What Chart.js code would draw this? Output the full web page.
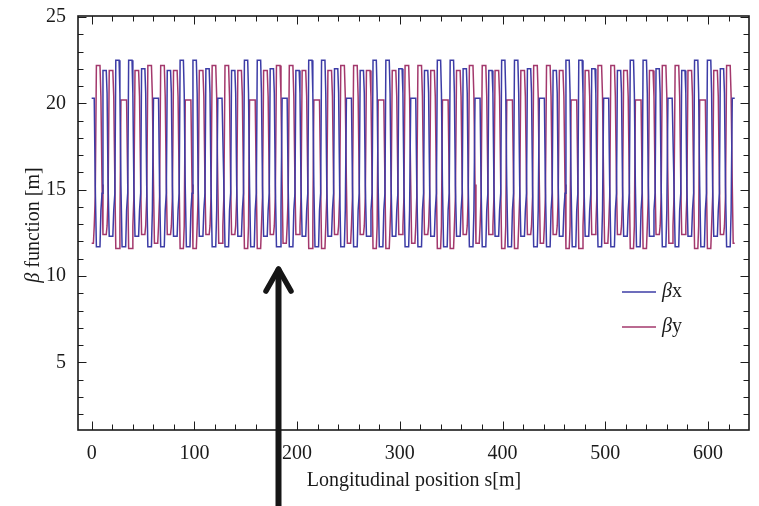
<!DOCTYPE html>
<html>
<head>
<meta charset="utf-8">
<script src="https://cdn.jsdelivr.net/npm/chart.js@4.4.1/dist/chart.umd.min.js"></script>
<style>
  html, body { margin: 0; padding: 0; background: #fff; }
</style>
</head>
<body>
<canvas id="beta" width="759" height="506"></canvas>
<script>
// Longitudinal position s [m] of each sample
const sPos = [
  0,1.7,2.5,3.5,4.6,8.1,9,10.1,11, 12.5,14.2,15,16,17.1,20.6,21.5,22.6,23.5, 25,26.7,27.5,28.5,29.6,33.1,34,35.1,36, 37.6,39.3,40.1,41.1,42.2,45.7,46.6,47.7,48.6, 50.1,51.8,52.6,53.6,54.7,58.2,59.1,60.2,61.1,
  62.6,64.3,65.1,66.1,67.2,70.7,71.6,72.7,73.6, 75.1,76.8,77.6,78.6,79.7,83.2,84.1,85.2,86.1, 87.6,89.3,90.1,91.1,92.2,95.7,96.6,97.7,98.6, 100.2,101.9,102.7,103.7,104.8,108.3,109.2,110.3,111.2, 112.7,114.4,115.2,116.2,117.3,120.8,121.7,122.8,123.7,
  125.2,126.9,127.7,128.7,129.8,133.3,134.2,135.3,136.2, 137.7,139.4,140.2,141.2,142.3,145.8,146.7,147.8,148.7, 150.2,151.9,152.7,153.7,154.8,158.3,159.2,160.3,161.2, 162.8,164.5,165.3,166.3,167.4,170.9,171.8,172.9,173.8, 175.3,177,177.8,178.8,179.9,183.4,184.3,185.4,186.3,
  187.8,189.5,190.3,191.3,192.4,195.9,196.8,197.9,198.8, 200.3,202,202.8,203.8,204.9,208.4,209.3,210.4,211.3, 212.8,214.5,215.3,216.3,217.4,220.9,221.8,222.9,223.8, 225.4,227.1,227.9,228.9,230,233.5,234.4,235.5,236.4, 237.9,239.6,240.4,241.4,242.5,246,246.9,248,248.9,
  250.4,252.1,252.9,253.9,255,258.5,259.4,260.5,261.4, 262.9,264.6,265.4,266.4,267.5,271,271.9,273,273.9, 275.4,277.1,277.9,278.9,280,283.5,284.4,285.5,286.4, 288,289.7,290.5,291.5,292.6,296.1,297,298.1,299, 300.5,302.2,303,304,305.1,308.6,309.5,310.6,311.5,
  313,314.7,315.5,316.5,317.6,321.1,322,323.1,324, 325.5,327.2,328,329,330.1,333.6,334.5,335.6,336.5, 338,339.7,340.5,341.5,342.6,346.1,347,348.1,349, 350.6,352.3,353.1,354.1,355.2,358.7,359.6,360.7,361.6, 363.1,364.8,365.6,366.6,367.7,371.2,372.1,373.2,374.1,
  375.6,377.3,378.1,379.1,380.2,383.7,384.6,385.7,386.6, 388.1,389.8,390.6,391.6,392.7,396.2,397.1,398.2,399.1, 400.6,402.3,403.1,404.1,405.2,408.7,409.6,410.7,411.6, 413.2,414.9,415.7,416.7,417.8,421.3,422.2,423.3,424.2, 425.7,427.4,428.2,429.2,430.3,433.8,434.7,435.8,436.7,
  438.2,439.9,440.7,441.7,442.8,446.3,447.2,448.3,449.2, 450.7,452.4,453.2,454.2,455.3,458.8,459.7,460.8,461.7, 463.2,464.9,465.7,466.7,467.8,471.3,472.2,473.3,474.2, 475.8,477.5,478.3,479.3,480.4,483.9,484.8,485.9,486.8, 488.3,490,490.8,491.8,492.9,496.4,497.3,498.4,499.3,
  500.8,502.5,503.3,504.3,505.4,508.9,509.8,510.9,511.8, 513.3,515,515.8,516.8,517.9,521.4,522.3,523.4,524.3, 525.8,527.5,528.3,529.3,530.4,533.9,534.8,535.9,536.8, 538.4,540.1,540.9,541.9,543,546.5,547.4,548.5,549.4, 550.9,552.6,553.4,554.4,555.5,559,559.9,561,561.9,
  563.4,565.1,565.9,566.9,568,571.5,572.4,573.5,574.4, 575.9,577.6,578.4,579.4,580.5,584,584.9,586,586.9, 588.4,590.1,590.9,591.9,593,596.5,597.4,598.5,599.4, 601,602.7,603.5,604.5,605.6,609.1,610,611.1,612, 613.5,615.2,616,617,618.1,621.6,622.5,623.6,624.5,
  626
];

// beta_x [m] at each sample
const betaX = [
  20.3,20.3,20.3,15.2,11.7,11.7,13.8,14.8,21.9, 21.9,21.9,20.6,15.2,12.3,12.3,13.8,14.8,22.5, 22.5,22.5,20.6,15.2,11.7,11.7,13.8,14.8,22.5, 22.5,22.5,20.6,15.2,12.3,12.3,13.8,14.8,22.0, 22.0,22.0,20.6,15.2,11.7,11.7,13.8,20.3,20.3,
  20.3,20.3,20.3,15.2,11.7,11.7,13.8,14.8,21.9, 21.9,21.9,20.6,15.2,12.3,12.3,13.8,14.8,22.5, 22.5,22.5,20.6,15.2,11.7,11.7,13.8,14.8,22.5, 22.5,22.5,20.6,15.2,12.3,12.3,13.8,14.8,22.0, 22.0,22.0,20.6,15.2,11.7,11.7,13.8,20.3,20.3,
  20.3,20.3,20.3,15.2,11.7,11.7,13.8,14.8,21.9, 21.9,21.9,20.6,15.2,12.3,12.3,13.8,14.8,22.5, 22.5,22.5,20.6,15.2,11.7,11.7,13.8,14.8,22.5, 22.5,22.5,20.6,15.2,12.3,12.3,13.8,14.8,22.0, 22.0,22.0,20.6,15.2,11.7,11.7,13.8,20.3,20.3,
  20.3,20.3,20.3,15.2,11.7,11.7,13.8,14.8,21.9, 21.9,21.9,20.6,15.2,12.3,12.3,13.8,14.8,22.5, 22.5,22.5,20.6,15.2,11.7,11.7,13.8,14.8,22.5, 22.5,22.5,20.6,15.2,12.3,12.3,13.8,14.8,22.0, 22.0,22.0,20.6,15.2,11.7,11.7,13.8,20.3,20.3,
  20.3,20.3,20.3,15.2,11.7,11.7,13.8,14.8,21.9, 21.9,21.9,20.6,15.2,12.3,12.3,13.8,14.8,22.5, 22.5,22.5,20.6,15.2,11.7,11.7,13.8,14.8,22.5, 22.5,22.5,20.6,15.2,12.3,12.3,13.8,14.8,22.0, 22.0,22.0,20.6,15.2,11.7,11.7,13.8,20.3,20.3,
  20.3,20.3,20.3,15.2,11.7,11.7,13.8,14.8,21.9, 21.9,21.9,20.6,15.2,12.3,12.3,13.8,14.8,22.5, 22.5,22.5,20.6,15.2,11.7,11.7,13.8,14.8,22.5, 22.5,22.5,20.6,15.2,12.3,12.3,13.8,14.8,22.0, 22.0,22.0,20.6,15.2,11.7,11.7,13.8,20.3,20.3,
  20.3,20.3,20.3,15.2,11.7,11.7,13.8,14.8,21.9, 21.9,21.9,20.6,15.2,12.3,12.3,13.8,14.8,22.5, 22.5,22.5,20.6,15.2,11.7,11.7,13.8,14.8,22.5, 22.5,22.5,20.6,15.2,12.3,12.3,13.8,14.8,22.0, 22.0,22.0,20.6,15.2,11.7,11.7,13.8,20.3,20.3,
  20.3,20.3,20.3,15.2,11.7,11.7,13.8,14.8,21.9, 21.9,21.9,20.6,15.2,12.3,12.3,13.8,14.8,22.5, 22.5,22.5,20.6,15.2,11.7,11.7,13.8,14.8,22.5, 22.5,22.5,20.6,15.2,12.3,12.3,13.8,14.8,22.0, 22.0,22.0,20.6,15.2,11.7,11.7,13.8,20.3,20.3,
  20.3,20.3,20.3,15.2,11.7,11.7,13.8,14.8,21.9, 21.9,21.9,20.6,15.2,12.3,12.3,13.8,14.8,22.5, 22.5,22.5,20.6,15.2,11.7,11.7,13.8,14.8,22.5, 22.5,22.5,20.6,15.2,12.3,12.3,13.8,14.8,22.0, 22.0,22.0,20.6,15.2,11.7,11.7,13.8,20.3,20.3,
  20.3,20.3,20.3,15.2,11.7,11.7,13.8,14.8,21.9, 21.9,21.9,20.6,15.2,12.3,12.3,13.8,14.8,22.5, 22.5,22.5,20.6,15.2,11.7,11.7,13.8,14.8,22.5, 22.5,22.5,20.6,15.2,12.3,12.3,13.8,14.8,22.0, 22.0,22.0,20.6,15.2,11.7,11.7,13.8,20.3,20.3,
  20.3
];

// beta_y [m] at each sample
const betaY = [
  11.9,11.9,12.9,14.6,22.2,22.2,20.4,15.3,12.4, 12.4,12.4,12.9,14.6,21.9,21.9,20.4,15.3,11.6, 11.6,11.6,12.9,20.2,20.2,20.2,20.2,15.3,11.6, 11.6,11.6,12.9,14.6,21.9,21.9,20.4,15.3,12.4, 12.4,12.4,12.9,14.6,22.2,22.2,20.4,15.3,11.9,
  11.9,11.9,12.9,14.6,22.2,22.2,20.4,15.3,12.4, 12.4,12.4,12.9,14.6,21.9,21.9,20.4,15.3,11.6, 11.6,11.6,12.9,20.2,20.2,20.2,20.2,15.3,11.6, 11.6,11.6,12.9,14.6,21.9,21.9,20.4,15.3,12.4, 12.4,12.4,12.9,14.6,22.2,22.2,20.4,15.3,11.9,
  11.9,11.9,12.9,14.6,22.2,22.2,20.4,15.3,12.4, 12.4,12.4,12.9,14.6,21.9,21.9,20.4,15.3,11.6, 11.6,11.6,12.9,20.2,20.2,20.2,20.2,15.3,11.6, 11.6,11.6,12.9,14.6,21.9,21.9,20.4,15.3,12.4, 12.4,12.4,12.9,14.6,22.2,22.2,20.4,15.3,11.9,
  11.9,11.9,12.9,14.6,22.2,22.2,20.4,15.3,12.4, 12.4,12.4,12.9,14.6,21.9,21.9,20.4,15.3,11.6, 11.6,11.6,12.9,20.2,20.2,20.2,20.2,15.3,11.6, 11.6,11.6,12.9,14.6,21.9,21.9,20.4,15.3,12.4, 12.4,12.4,12.9,14.6,22.2,22.2,20.4,15.3,11.9,
  11.9,11.9,12.9,14.6,22.2,22.2,20.4,15.3,12.4, 12.4,12.4,12.9,14.6,21.9,21.9,20.4,15.3,11.6, 11.6,11.6,12.9,20.2,20.2,20.2,20.2,15.3,11.6, 11.6,11.6,12.9,14.6,21.9,21.9,20.4,15.3,12.4, 12.4,12.4,12.9,14.6,22.2,22.2,20.4,15.3,11.9,
  11.9,11.9,12.9,14.6,22.2,22.2,20.4,15.3,12.4, 12.4,12.4,12.9,14.6,21.9,21.9,20.4,15.3,11.6, 11.6,11.6,12.9,20.2,20.2,20.2,20.2,15.3,11.6, 11.6,11.6,12.9,14.6,21.9,21.9,20.4,15.3,12.4, 12.4,12.4,12.9,14.6,22.2,22.2,20.4,15.3,11.9,
  11.9,11.9,12.9,14.6,22.2,22.2,20.4,15.3,12.4, 12.4,12.4,12.9,14.6,21.9,21.9,20.4,15.3,11.6, 11.6,11.6,12.9,20.2,20.2,20.2,20.2,15.3,11.6, 11.6,11.6,12.9,14.6,21.9,21.9,20.4,15.3,12.4, 12.4,12.4,12.9,14.6,22.2,22.2,20.4,15.3,11.9,
  11.9,11.9,12.9,14.6,22.2,22.2,20.4,15.3,12.4, 12.4,12.4,12.9,14.6,21.9,21.9,20.4,15.3,11.6, 11.6,11.6,12.9,20.2,20.2,20.2,20.2,15.3,11.6, 11.6,11.6,12.9,14.6,21.9,21.9,20.4,15.3,12.4, 12.4,12.4,12.9,14.6,22.2,22.2,20.4,15.3,11.9,
  11.9,11.9,12.9,14.6,22.2,22.2,20.4,15.3,12.4, 12.4,12.4,12.9,14.6,21.9,21.9,20.4,15.3,11.6, 11.6,11.6,12.9,20.2,20.2,20.2,20.2,15.3,11.6, 11.6,11.6,12.9,14.6,21.9,21.9,20.4,15.3,12.4, 12.4,12.4,12.9,14.6,22.2,22.2,20.4,15.3,11.9,
  11.9,11.9,12.9,14.6,22.2,22.2,20.4,15.3,12.4, 12.4,12.4,12.9,14.6,21.9,21.9,20.4,15.3,11.6, 11.6,11.6,12.9,20.2,20.2,20.2,20.2,15.3,11.6, 11.6,11.6,12.9,14.6,21.9,21.9,20.4,15.3,12.4, 12.4,12.4,12.9,14.6,22.2,22.2,20.4,15.3,11.9,
  11.9
];

// Axis ticks
const xTicks = [0, 100, 200, 300, 400, 500, 600];
const xMinor = [20, 40, 60, 80, 120, 140, 160, 180, 220, 240, 260, 280, 320, 340, 360, 380, 420, 440, 460, 480, 520, 540, 560, 580, 620];
const yTicks = [5, 10, 15, 20, 25];
const yMinor = [2, 3, 4, 6, 7, 8, 9, 11, 12, 13, 14, 16, 17, 18, 19, 21, 22, 23, 24];

const xTitle = "Longitudinal position s[m]";
const yTitle = ["\u03B2", " function [m]"];
const seriesNames = ["\u03B2x", "\u03B2y"];
const seriesColors = ["#3c3ca6", "#a3386c"];

const serif = "'Liberation Serif', 'DejaVu Serif', serif";

// Helpers
const getById = (id) => document.getElementById(id);
const points = (ys) => sPos.map((s, i) => ({ x: s, y: ys[i] }));

// frame with inward ticks on all four sides, legend, titles and the arrow
const decorations = {
  id: "decorations",
  afterDraw(chart) {
    const { ctx, chartArea: a, scales: { x, y } } = chart;
    ctx.save();

    // ticks
    ctx.strokeStyle = "#1c1c1c";
    ctx.lineWidth = 1;
    ctx.beginPath();
    const xt = (v, len) => {
      const px = Math.round(x.getPixelForValue(v)) + 0.5;
      ctx.moveTo(px, a.bottom); ctx.lineTo(px, a.bottom - len);
      ctx.moveTo(px, a.top); ctx.lineTo(px, a.top + len);
    };
    const yt = (v, len) => {
      const py = Math.round(y.getPixelForValue(v)) + 0.5;
      ctx.moveTo(a.left, py); ctx.lineTo(a.left + len, py);
      ctx.moveTo(a.right, py); ctx.lineTo(a.right - len, py);
    };
    xMinor.forEach(v => xt(v, 5.5));
    xTicks.forEach(v => xt(v, 8.5));
    yMinor.forEach(v => yt(v, 5.5));
    yTicks.forEach(v => yt(v, 8.5));
    ctx.stroke();

    // frame
    ctx.lineWidth = 1.6;
    ctx.strokeStyle = "#1a1a1a";
    ctx.strokeRect(a.left, a.top, a.right - a.left, a.bottom - a.top);

    // axis titles
    ctx.fillStyle = "#1a1a1a";
    ctx.textBaseline = "middle";
    ctx.textAlign = "center";
    ctx.font = "20px " + serif;
    ctx.fillText(xTitle, 414, 481);

    ctx.save();
    ctx.translate(34, 225);
    ctx.rotate(-Math.PI / 2);
    ctx.font = "italic 20px " + serif;
    const w0 = ctx.measureText(yTitle[0]).width;
    ctx.font = "20px " + serif;
    const w1 = ctx.measureText(yTitle[1]).width;
    ctx.textAlign = "left";
    ctx.font = "italic 20px " + serif;
    ctx.fillText(yTitle[0], -(w0 + w1) / 2, 0);
    ctx.font = "20px " + serif;
    ctx.fillText(yTitle[1], -(w0 + w1) / 2 + w0, 0);
    ctx.restore();

    // legend
    const legendY = [292, 327];
    chart.data.datasets.forEach((ds, i) => {
      ctx.strokeStyle = ds.borderColor;
      ctx.lineWidth = 1.5;
      ctx.beginPath();
      ctx.moveTo(622, legendY[i]);
      ctx.lineTo(656, legendY[i]);
      ctx.stroke();
      ctx.textAlign = "left";
      ctx.font = "italic 20px " + serif;
      ctx.fillText(ds.label[0], 662, legendY[i]);
      const wb = ctx.measureText(ds.label[0]).width;
      ctx.font = "20px " + serif;
      ctx.fillText(ds.label.slice(1), 662 + wb, legendY[i]);
    });

    // arrow
    ctx.strokeStyle = "#161616";
    ctx.lineCap = "round";
    ctx.lineJoin = "round";
    ctx.lineWidth = 6;
    ctx.beginPath();
    ctx.moveTo(278.5, 520);
    ctx.lineTo(278.5, 270);
    ctx.stroke();
    ctx.lineWidth = 5.5;
    ctx.beginPath();
    ctx.moveTo(266, 291);
    ctx.lineTo(278.5, 269);
    ctx.lineTo(291, 291);
    ctx.stroke();

    ctx.restore();
  }
};

new Chart(getById("beta").getContext("2d"), {
  type: "line",
  data: {
    datasets: [
      { label: seriesNames[0], data: points(betaX), borderColor: seriesColors[0], borderWidth: 1.5, pointRadius: 0, tension: 0 },
      { label: seriesNames[1], data: points(betaY), borderColor: seriesColors[1], borderWidth: 1.5, pointRadius: 0, tension: 0 },
    ]
  },
  options: {
    responsive: false,
    animation: false,
    devicePixelRatio: 1,
    layout: { padding: { left: 0, right: 10, top: 14, bottom: 0 } },
    plugins: { legend: { display: false }, tooltip: { enabled: false } },
    scales: {
      x: {
        type: "linear",
        min: -13.3,
        max: 639.9,
        afterBuildTicks: (s) => { s.ticks = xTicks.map(v => ({ value: v })); },
        afterFit: (s) => { s.height = 76; },
        grid: { display: false },
        border: { display: false },
        ticks: { color: "#1a1a1a", font: { family: serif, size: 20 }, padding: 4, maxRotation: 0, autoSkip: false },
      },
      y: {
        type: "linear",
        min: 1.08,
        max: 25.06,
        afterBuildTicks: (s) => { s.ticks = yTicks.map(v => ({ value: v })); },
        afterFit: (s) => { s.width = 78; },
        grid: { display: false },
        border: { display: false },
        ticks: { color: "#1a1a1a", font: { family: serif, size: 20 }, padding: 4, autoSkip: false },
      },
    },
  },
  plugins: [decorations],
});
</script>
</body>
</html>
